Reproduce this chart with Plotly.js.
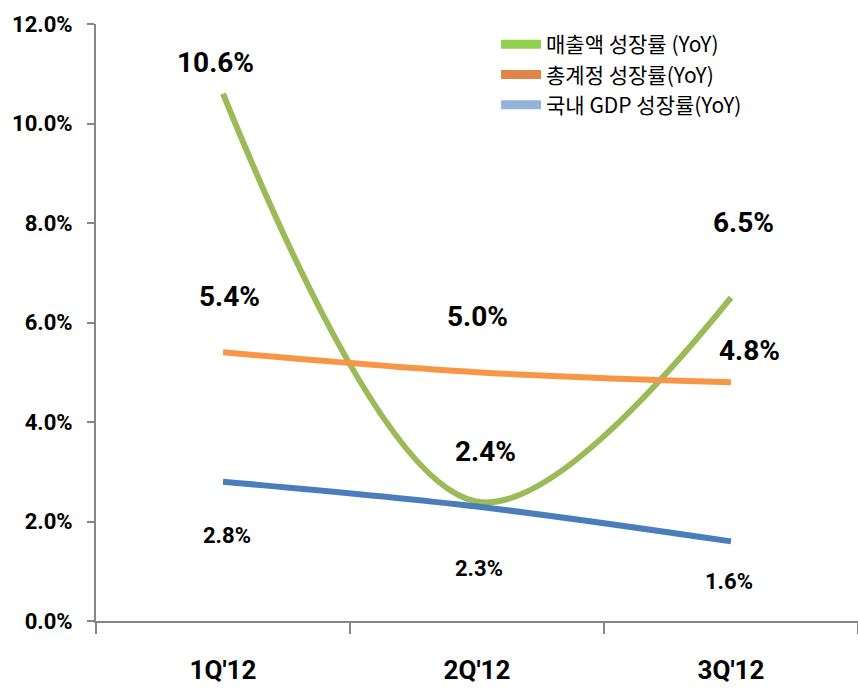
<!DOCTYPE html>
<html>
<head>
<meta charset="utf-8">
<script src="https://cdn.plot.ly/plotly-3.0.1.min.js"></script>
<style>html,body{margin:0;padding:0;background:#fff;}#chart{width:858px;height:690px;}</style>
</head>
<body>
<div id="chart"></div>
<script>
const categories = ["1Q'12", "2Q'12", "3Q'12"];
const salesGrowth = [10.6, 2.4, 6.5];
const totalGrowth = [5.4, 5.0, 4.8];
const gdpGrowth = [2.8, 2.3, 1.6];
const seriesNames = ["매출액 성장률 (YoY)", "총계정 성장률(YoY)", "국내 GDP 성장률(YoY)"];
const yTicks = [0, 2, 4, 6, 8, 10, 12];

const lineColors = ["#9BBB59", "#F79646", "#4A7EBB"];
const legendColors = ["#92D050", "#E0844A", "#95B3D7"];
const series = [salesGrowth, totalGrowth, gdpGrowth];

const traces = [];
series.forEach((vals, i) => {
  traces.push({
    x: categories, y: vals, type: 'scatter', mode: 'lines',
    line: {shape: 'spline', smoothing: 1, color: lineColors[i], width: 6},
    showlegend: false, hoverinfo: 'skip'
  });
});
series.forEach((vals, i) => {
  traces.push({
    x: [null], y: [null], type: 'scatter', mode: 'lines', name: seriesNames[i],
    line: {color: legendColors[i], width: 9}, showlegend: true
  });
});

const labelFont = "Roboto, 'Liberation Sans', sans-serif";
// label offsets (px) relative to each point
const salesOff = [[-8, 31], [8, 50], [12, 75]];
const totalOff = [[6, 56], [0, 56], [18, 32]];
const gdpOff = [[4, -54], [2, -62], [-2, -40]];
const offs = [salesOff, totalOff, gdpOff];
const big = [[true, true, true], [true, true, true], [false, false, false]];
const annotations = [];
series.forEach((vals, i) => {
  vals.forEach((v, j) => {
    annotations.push({
      x: categories[j], y: v, xref: 'x', yref: 'y', showarrow: false,
      text: v.toFixed(1) + '%', xshift: offs[i][j][0], yshift: offs[i][j][1],
      font: {family: labelFont, size: big[i][j] ? 28 : 22, color: '#000', weight: 'bold'}
    });
  });
});

const layout = {
  width: 858, height: 690,
  margin: {l: 96, r: 0, t: 24, b: 69},
  paper_bgcolor: '#fff', plot_bgcolor: '#fff',
  showlegend: true,
  legend: {x: 0.525, y: 1.0, xanchor: 'left', yanchor: 'top', bgcolor: 'rgba(0,0,0,0)',
    font: {family: "'Noto Sans CJK KR', sans-serif", size: 21, color: '#000'}, itemwidth: 40},
  xaxis: {
    type: 'category', range: [-0.5, 2.5], tickson: 'boundaries',
    showline: true, linecolor: '#868686', linewidth: 2, showgrid: false, zeroline: false,
    ticks: 'outside', ticklen: 11, tickcolor: '#868686', tickwidth: 2,
    tickfont: {family: labelFont, size: 26, color: '#000', weight: 'bold'}, ticklabelstandoff: 25
  },
  yaxis: {
    range: [0, 12], tickvals: yTicks, ticktext: yTicks.map(t => t.toFixed(1) + '%'),
    showline: true, linecolor: '#868686', linewidth: 2, showgrid: false, zeroline: false,
    ticks: 'outside', ticklen: 7, tickcolor: '#868686', tickwidth: 2,
    tickfont: {family: labelFont, size: 22, color: '#000', weight: 'bold'}, ticklabelstandoff: 10
  },
  annotations: annotations
};
Plotly.newPlot('chart', traces, layout, {displayModeBar: false, staticPlot: true});
</script>
</body>
</html>
